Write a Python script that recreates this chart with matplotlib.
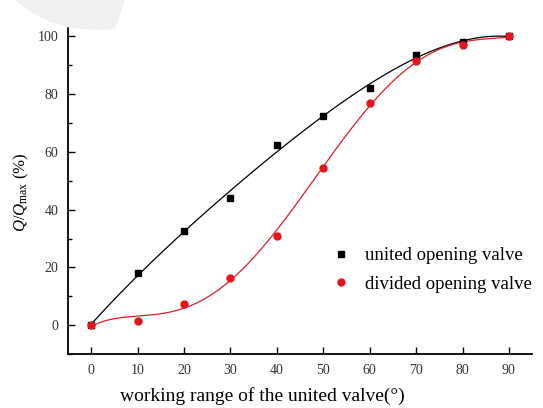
import numpy as np
import matplotlib.pyplot as plt
from matplotlib.ticker import MultipleLocator
from matplotlib.patches import Polygon

plt.rcParams['font.family'] = 'Liberation Serif'
plt.rcParams['mathtext.fontset'] = 'custom'
plt.rcParams['mathtext.rm'] = 'Liberation Serif'
plt.rcParams['mathtext.it'] = 'Liberation Serif:italic'

# data
angle = [0, 10, 20, 30, 40, 50, 60, 70, 80, 90]
united = [0, 18, 32.5, 44, 62.5, 72.5, 82, 93.5, 98, 100]
divided = [0, 1.5, 7.5, 16.5, 31, 54.5, 77, 91.5, 97, 100]

W, H = 543, 408
fig = plt.figure(figsize=(W / 100, H / 100), dpi=100)

# faint grey blob of the screenshot, top left
blob = [(15, 0), (28, 10), (45, 20), (70, 28), (100, 30), (115, 29), (125, 0)]
fig.patches.append(Polygon([(x / W, 1 - y / H) for x, y in blob], closed=True,
                           transform=fig.transFigure, facecolor='#f0f0f0', edgecolor='none'))

ax = fig.add_axes([0.125, 0.132, 0.855, 0.843])
ax.patch.set_alpha(0)

# smooth fitted curves
xs = np.linspace(0, 90, 300)
fit_u = np.polyval(np.polyfit(angle, united, 4), xs)
fit_d = np.polyval(np.polyfit(angle, divided, 5), xs)
ax.plot(xs, fit_u, color='black', lw=0.9)
ax.plot(xs, fit_d, color='#d8202a', lw=0.9)

ax.plot(angle, united, 's', color='black', ms=5, label='united opening valve')
ax.plot(angle, divided, 'o', color='#e8141c', ms=5, label='divided opening valve')

ax.set_xlim(-5, 95)
ax.set_ylim(-10, 109)
ax.set_xticks(range(0, 91, 10))
ax.yaxis.set_major_locator(MultipleLocator(20))
ax.yaxis.set_minor_locator(MultipleLocator(10))
ax.tick_params(direction='in', length=5, width=1, labelsize=10, labelcolor='#333333', pad=7)
ax.tick_params(which='minor', direction='in', length=3, width=1)
ax.spines['top'].set_visible(False)
ax.spines['right'].set_visible(False)
ax.spines['left'].set_linewidth(1.3)
ax.spines['bottom'].set_linewidth(1.3)

ax.set_xlabel('working range of the united valve(°)', fontsize=14)
ax.xaxis.set_label_coords(0.418, -0.097)
ax.set_ylabel(r'$Q/Q_{\mathrm{max}}$ (%)', fontsize=12)
ax.yaxis.set_label_coords(-0.08, 0.47)

ax.legend(loc='upper left', bbox_to_anchor=(0.556, 0.333), frameon=False, fontsize=13.5,
          handlelength=0.8, handletextpad=0.9, labelspacing=0.6, borderaxespad=0)

fig.savefig('out.png', dpi=100)
